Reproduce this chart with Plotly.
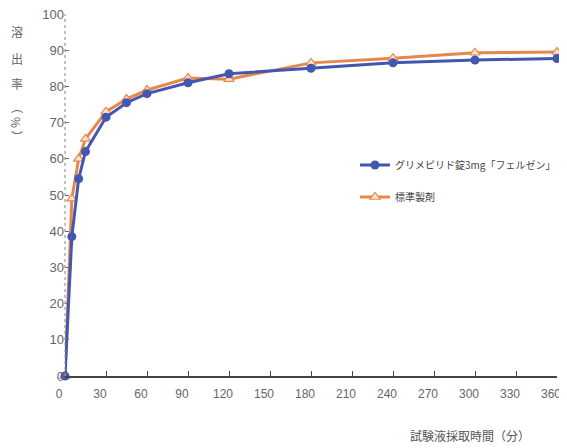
import plotly.graph_objects as go

times = [0, 5, 10, 15, 30, 45, 60, 90, 120, 180, 240, 300, 360]
felsen = [0, 38.5, 54.5, 62, 71.5, 75.5, 78, 81, 83.5, 85, 86.5, 87.3, 87.7]
standard = [0, 49, 60, 65.5, 73, 76.5, 79, 82.3, 82, 86.5, 87.8, 89.3, 89.5]
x_ticks = list(range(0, 361, 30))
y_ticks = list(range(0, 101, 10))
name_felsen = "グリメピリド錠3mg「フェルゼン」"
name_standard = "標準製剤"

BLUE = "#4356b0"
ORANGE = "#e8874a"
GRAY = "#666666"
CJK = "Noto Sans CJK JP"
NUM = "Liberation Sans Narrow, Liberation Sans, Arial"

fig = go.Figure()
fig.add_trace(go.Scatter(
    x=times, y=standard, name=name_standard, mode="lines+markers",
    line=dict(color=ORANGE, width=3),
    marker=dict(symbol="triangle-up", size=9, color="#fbe3d3",
                line=dict(color=ORANGE, width=1.2)),
    cliponaxis=False, legend="legend2",
))
fig.add_trace(go.Scatter(
    x=times, y=felsen, name=name_felsen, mode="lines+markers",
    line=dict(color=BLUE, width=3),
    marker=dict(symbol="circle", size=9, color=BLUE),
    cliponaxis=False, legend="legend",
))

# page is offset by the browser's 8px body margin
OFF = 8
W, H = 567 - OFF, 448 - OFF
L = 65 - OFF
T = 14 - OFF
R = W - (557 - OFF)
B = H - (376 - OFF)
pw = W - L - R
ph = H - T - B

def px(xp):
    return (xp - OFF - L) / pw

def py(yp):
    return (H - B - (yp - OFF)) / ph

# dashed gray y-axis line
fig.add_shape(type="line", xref="paper", yref="paper", x0=0, x1=0, y0=0, y1=1,
              line=dict(color="#999999", width=1.2, dash="dot"))

annotations = []
for ch, yy, ang in [("溶", 32, 0), ("出", 59, 0), ("率", 83, 0),
                    ("︵", 107, 0), ("%", 122, 90), ("︶", 136, 0)]:
    annotations.append(dict(text=ch, x=px(17), y=py(yy), xref="paper", yref="paper",
                            xanchor="center", yanchor="middle",
                            showarrow=False, textangle=ang,
                            font=dict(family=CJK, size=12, color=GRAY)))
annotations.append(dict(text="試験液採取時間（分）", x=px(470), y=py(435),
                        xref="paper", yref="paper", showarrow=False,
                        xanchor="center", yanchor="middle",
                        font=dict(family=CJK, size=12, color="#555555")))
fig.update_layout(annotations=annotations)

fig.update_layout(
    width=W, height=H,
    margin=dict(l=L, r=R, t=T, b=B, autoexpand=False),
    paper_bgcolor="white", plot_bgcolor="white",
    xaxis=dict(range=[0, 360], tickvals=x_ticks, ticktext=[str(v) for v in x_ticks],
               automargin=False, ticklabeloverflow="allow", ticklabelshift=-6,
               ticklabelstandoff=6,
               showgrid=False, zeroline=False, showline=True, linecolor="#444444",
               linewidth=1.5, ticks="inside", ticklen=5, tickcolor="#444444",
               tickfont=dict(family=NUM, size=12, color=GRAY)),
    yaxis=dict(range=[0, 100], tickvals=y_ticks, showgrid=False, zeroline=False,
               automargin=False, ticklabeloverflow="allow",
               showline=False, ticks="inside", ticklen=4, tickcolor="#666666",
               tickfont=dict(family=NUM, size=13, color=GRAY)),
    legend=dict(x=px(355), y=py(165), xanchor="left", yanchor="middle",
                bgcolor="rgba(0,0,0,0)", itemwidth=30,
                font=dict(family=CJK, size=10, color="#444444")),
    legend2=dict(x=px(355), y=py(197), xanchor="left", yanchor="middle",
                 bgcolor="rgba(0,0,0,0)", itemwidth=30,
                 font=dict(family=CJK, size=10, color="#444444")),
    showlegend=True,
)

fig.write_html("out.html")
